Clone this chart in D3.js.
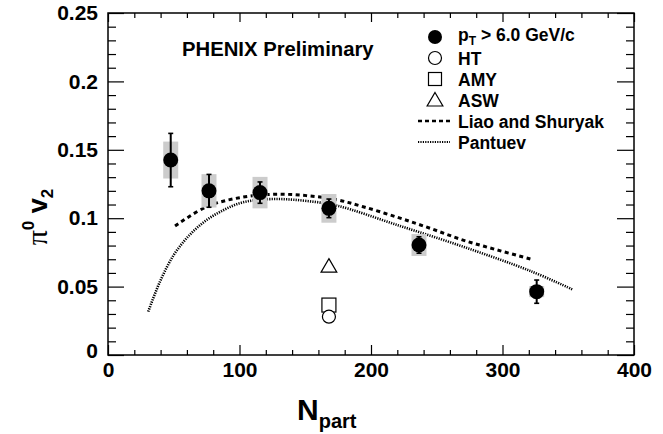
<!DOCTYPE html>
<html>
<head>
<meta charset="utf-8">
<title>pi0 v2 vs Npart</title>
<script src="https://d3js.org/d3.v7.min.js"></script>
<style>
  body { margin: 0; background: #fff; }
  text { font-family: "Liberation Sans", Arial, Helvetica, sans-serif; font-weight: bold; }
</style>
</head>
<body>
<script>
// PHENIX pi0 v2 at high pT versus centrality
const npart   = [47.7, 76.8, 115.6, 168, 236.5, 326];
const v2      = [0.1425, 0.120, 0.1187, 0.1072, 0.0804, 0.0463];
const statErr = [0.0195, 0.012, 0.0078, 0.0068, 0.006, 0.0085];
const sysErr  = [0.0135, 0.0122, 0.0115, 0.0105, 0.008, 0.004];

// model points at Npart = 168
const modelN   = 168;
const htV2     = 0.028;
const amyV2    = 0.0365;
const aswV2    = 0.065;

// model curves
const liaoN  = [51, 75, 100, 126, 151, 174, 194, 220, 245, 270, 296, 322];
const liaoV2 = [0.0943, 0.1084, 0.115, 0.1175, 0.1165, 0.1135, 0.1084, 0.1007, 0.0926, 0.084, 0.0768, 0.070];
const pantN  = [30.6, 39.5, 50, 62, 75, 88, 100, 113, 131, 151, 174, 220, 270, 321, 353];
const pantV2 = [0.0317, 0.0536, 0.0731, 0.0877, 0.0987, 0.106, 0.1109, 0.1133, 0.114, 0.1126, 0.1092, 0.095, 0.0792, 0.0615, 0.048];

const xTicks = [0, 100, 200, 300, 400];
const yTicks = [0, 0.05, 0.1, 0.15, 0.2, 0.25];
const legendLabels = ["HT", "AMY", "ASW", "Liao and Shuryak", "Pantuev"];

const W = 663, H = 434;
const svg = d3.select("body").append("svg")
    .attr("width", W)
    .attr("height", H);

const x = d3.scaleLinear().domain([0, 400]).range([108, 634]);
const y = d3.scaleLinear().domain([0, 0.25]).range([355, 13]);

const xMinor = d3.range(0, 401, 20).filter(d => d % 100 !== 0);
const yMinor = d3.range(0, 0.2501, 0.01).filter(d => Math.abs(Math.round(d * 100) % 5) !== 0);

// frame
svg.append("rect")
    .attr("x", x(0)).attr("y", y(0.25))
    .attr("width", x(400) - x(0)).attr("height", y(0) - y(0.25))
    .attr("fill", "none").attr("stroke", "#000").attr("stroke-width", 1.5);

// axes: ticks point inward on all four sides
function styleAxis(g) {
    g.select(".domain").remove();
    g.selectAll("line").attr("stroke", "#000").attr("stroke-width", 1.2);
}

svg.append("g").attr("transform", `translate(0,${y(0)})`)
    .call(d3.axisBottom(x).tickValues(xTicks).tickSize(-10).tickPadding(7).tickFormat(d3.format("d")))
    .call(styleAxis)
    .selectAll("text").attr("font-size", 21).attr("fill", "#000").attr("font-family", "Liberation Sans, Arial, sans-serif");
svg.append("g").attr("transform", `translate(0,${y(0)})`)
    .call(d3.axisBottom(x).tickValues(xMinor).tickSize(-5).tickFormat(""))
    .call(styleAxis);
svg.append("g").attr("transform", `translate(0,${y(0.25)})`)
    .call(d3.axisTop(x).tickValues(xTicks).tickSize(-9).tickFormat(""))
    .call(styleAxis);
svg.append("g").attr("transform", `translate(0,${y(0.25)})`)
    .call(d3.axisTop(x).tickValues(xMinor).tickSize(-5).tickFormat(""))
    .call(styleAxis);

svg.append("g").attr("transform", `translate(${x(0)},0)`)
    .call(d3.axisLeft(y).tickValues(yTicks).tickSize(-16).tickPadding(10).tickFormat(d => d === 0 ? "0" : String(+d.toFixed(2))))
    .call(styleAxis)
    .selectAll("text").attr("font-size", 21).attr("fill", "#000").attr("font-family", "Liberation Sans, Arial, sans-serif")
    .attr("dy", d => d === 0 ? "0.1em" : "0.32em");
svg.append("g").attr("transform", `translate(${x(0)},0)`)
    .call(d3.axisLeft(y).tickValues(yMinor).tickSize(-8).tickFormat(""))
    .call(styleAxis);
svg.append("g").attr("transform", `translate(${x(400)},0)`)
    .call(d3.axisRight(y).tickValues(yTicks).tickSize(-17).tickFormat(""))
    .call(styleAxis);
svg.append("g").attr("transform", `translate(${x(400)},0)`)
    .call(d3.axisRight(y).tickValues(yMinor).tickSize(-8).tickFormat(""))
    .call(styleAxis);

// model curves
const curve = d3.line()
    .x(d => x(d[0]))
    .y(d => y(d[1]))
    .curve(d3.curveCatmullRom);

svg.append("path")
    .datum(d3.zip(pantN, pantV2))
    .attr("d", curve)
    .attr("fill", "none").attr("stroke", "#000")
    .attr("stroke-width", 2.6).attr("stroke-dasharray", "1.2,1.2");

svg.append("path")
    .datum(d3.zip(liaoN, liaoV2))
    .attr("d", curve)
    .attr("fill", "none").attr("stroke", "#000")
    .attr("stroke-width", 3).attr("stroke-dasharray", "4,3.5");

// systematic boxes
const data = npart.map((n, i) => ({ n, v: v2[i], stat: statErr[i], sys: sysErr[i] }));

svg.selectAll("rect.sys").data(data).join("rect")
    .attr("class", "sys")
    .attr("x", d => x(d.n) - 7.5)
    .attr("width", 15)
    .attr("y", d => y(d.v + d.sys))
    .attr("height", d => y(d.v - d.sys) - y(d.v + d.sys))
    .attr("fill", "#cccccc");

// statistical error bars with small caps
const bars = svg.selectAll("g.err").data(data).join("g").attr("class", "err");
bars.append("line")
    .attr("x1", d => x(d.n)).attr("x2", d => x(d.n))
    .attr("y1", d => y(d.v + d.stat)).attr("y2", d => y(d.v - d.stat))
    .attr("stroke", "#000").attr("stroke-width", 2);
bars.selectAll("line.cap").data(d => [[d.n, d.v + d.stat], [d.n, d.v - d.stat]]).join("line")
    .attr("class", "cap")
    .attr("x1", d => x(d[0]) - 2.5).attr("x2", d => x(d[0]) + 2.5)
    .attr("y1", d => y(d[1])).attr("y2", d => y(d[1]))
    .attr("stroke", "#000").attr("stroke-width", 1.6);

svg.selectAll("circle.pt").data(data).join("circle")
    .attr("class", "pt")
    .attr("cx", d => x(d.n)).attr("cy", d => y(d.v))
    .attr("r", 7.5).attr("fill", "#000");

// theory points
function triangle(cx, cy, s) {
    return `M${cx},${cy - s} L${cx + s * 1.05},${cy + s * 0.8} L${cx - s * 1.05},${cy + s * 0.8} Z`;
}
svg.append("path")
    .attr("d", triangle(x(modelN), y(aswV2), 7.5))
    .attr("fill", "none").attr("stroke", "#000").attr("stroke-width", 1.2);
svg.append("rect")
    .attr("x", x(modelN) - 7).attr("y", y(amyV2) - 7)
    .attr("width", 14).attr("height", 14)
    .attr("fill", "none").attr("stroke", "#000").attr("stroke-width", 1.2);
svg.append("circle")
    .attr("cx", x(modelN)).attr("cy", y(htV2)).attr("r", 6.5)
    .attr("fill", "#fff").attr("stroke", "#000").attr("stroke-width", 1.2);

// label
svg.append("text")
    .attr("x", 182).attr("y", 56)
    .attr("font-size", 20.3)
    .text("PHENIX Preliminary");

// legend
const lgX = 435, lgTx = 458, lgY0 = 37, lgStep = 21;
const legend = svg.append("g");
legend.append("circle").attr("cx", lgX).attr("cy", lgY0).attr("r", 7).attr("fill", "#000");
const pt = legend.append("text").attr("x", lgTx).attr("y", lgY0 + 4).attr("font-size", 17.5);
pt.append("tspan").text("p");
pt.append("tspan").attr("font-size", 12).attr("dy", 4).text("T");
pt.append("tspan").attr("dy", -4).text(" > 6.0 GeV/c");

legend.append("circle").attr("cx", lgX).attr("cy", lgY0 + lgStep).attr("r", 6.5)
    .attr("fill", "none").attr("stroke", "#000").attr("stroke-width", 1.2);
legend.append("rect").attr("x", lgX - 6.5).attr("y", lgY0 + 2 * lgStep - 6.5)
    .attr("width", 13).attr("height", 13)
    .attr("fill", "none").attr("stroke", "#000").attr("stroke-width", 1.2);
legend.append("path").attr("d", triangle(lgX, lgY0 + 3 * lgStep, 7.5))
    .attr("fill", "none").attr("stroke", "#000").attr("stroke-width", 1.2);
legend.append("line")
    .attr("x1", 418).attr("x2", 450).attr("y1", lgY0 + 4 * lgStep).attr("y2", lgY0 + 4 * lgStep)
    .attr("stroke", "#000").attr("stroke-width", 2.5).attr("stroke-dasharray", "4,3");
legend.append("line")
    .attr("x1", 418).attr("x2", 450).attr("y1", lgY0 + 5 * lgStep).attr("y2", lgY0 + 5 * lgStep)
    .attr("stroke", "#000").attr("stroke-width", 2.2).attr("stroke-dasharray", "1.2,1.2");

legend.selectAll("text.lab").data(legendLabels).join("text")
    .attr("class", "lab")
    .attr("x", lgTx)
    .attr("y", (d, i) => lgY0 + (i + 1) * lgStep + 7)
    .attr("font-size", 17.5)
    .text(d => d);

// axis titles
const xt = svg.append("text").attr("x", 297).attr("y", 420).attr("font-size", 30);
xt.append("tspan").text("N");
xt.append("tspan").attr("font-size", 20).attr("dy", 8).text("part");

const yt = svg.append("text")
    .attr("transform", "translate(47,217) rotate(-90)")
    .attr("text-anchor", "middle")
    .attr("font-size", 27);
yt.append("tspan").attr("font-family", "Liberation Serif, serif").attr("font-weight", "normal").attr("font-size", 30).text("π");
yt.append("tspan").attr("font-size", 17).attr("dy", -13).text("0");
yt.append("tspan").attr("dy", 13).text(" v");
yt.append("tspan").attr("font-size", 17).attr("dy", 6).text("2");
</script>
</body>
</html>
